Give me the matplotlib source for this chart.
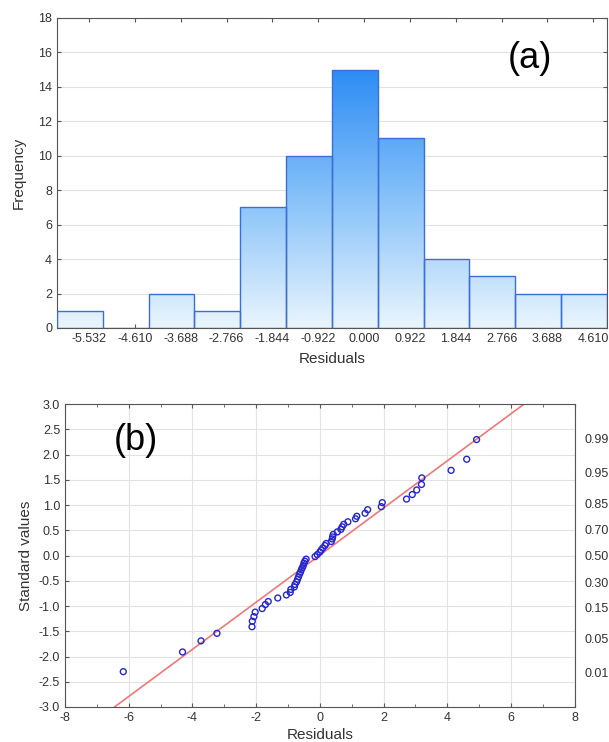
import numpy as np
import matplotlib
matplotlib.use("Agg")
import matplotlib.pyplot as plt
from matplotlib.colors import LinearSegmentedColormap
from matplotlib.path import Path
from matplotlib.patches import PathPatch

# ---- data ----
bin_labels = [-5.532, -4.610, -3.688, -2.766, -1.844, -0.922,
              0.000, 0.922, 1.844, 2.766, 3.688, 4.610]
bin_counts = [1, 0, 2, 1, 7, 10, 15, 11, 4, 3, 2, 2]
bin_width = 0.922

residuals = [-6.17, -4.31, -3.73, -3.23, -2.13, -2.12, -2.07, -2.03,
             -1.81, -1.71, -1.62, -1.32, -1.05, -0.93, -0.91, -0.80,
             -0.78, -0.73, -0.70, -0.67, -0.64, -0.61, -0.58, -0.55,
             -0.52, -0.50, -0.47, -0.43, -0.15, -0.08, 0.00, 0.04,
             0.09, 0.16, 0.20, 0.36, 0.39, 0.40, 0.42, 0.55,
             0.66, 0.70, 0.75, 0.88, 1.12, 1.16, 1.42, 1.50,
             1.93, 1.96, 2.72, 2.90, 3.04, 3.19, 3.20, 4.12,
             4.61, 4.92]
std_values = [-2.30, -1.91, -1.69, -1.54, -1.41, -1.30, -1.21, -1.12,
              -1.05, -0.97, -0.91, -0.84, -0.78, -0.73, -0.67, -0.62,
              -0.57, -0.52, -0.47, -0.42, -0.37, -0.33, -0.28, -0.24,
              -0.20, -0.15, -0.11, -0.07, -0.02, 0.02, 0.07, 0.11,
              0.15, 0.20, 0.24, 0.28, 0.33, 0.37, 0.42, 0.47,
              0.52, 0.57, 0.62, 0.67, 0.73, 0.78, 0.84, 0.91,
              0.97, 1.05, 1.12, 1.21, 1.30, 1.41, 1.54, 1.69,
              1.91, 2.30]
fit_slope = 0.467
fit_intercept = 0.01

prob_labels = ["0.01", "0.05", "0.15", "0.30", "0.50", "0.70", "0.85", "0.95", "0.99"]
prob_z = [-2.326, -1.645, -1.036, -0.524, 0.0, 0.524, 1.036, 1.645, 2.326]

# ---- style ----
C_TXT = "#333333"
C_SPINE = "#555555"
C_GRID = "#e2e2e2"
C_EDGE = "#3a6fd8"
plt.rcParams["font.family"] = ["Liberation Sans", "DejaVu Sans"]
plt.rcParams["axes.unicode_minus"] = False
TICK_FS = 9

fig = plt.figure(figsize=(6.09, 7.42), dpi=100)

# ── (a) histogram ──
ax1 = fig.add_axes([0.0936, 0.558, 0.903, 0.418])
lefts = [b - bin_width for b in bin_labels]
x_lo = lefts[0]
x_hi = bin_labels[-1]

cmap = LinearSegmentedColormap.from_list(
    "bars", [(0.0, "#eaf5fd"), (0.47, "#8dc5f9"), (1.0, "#2c8cf4")])
top = max(bin_counts)
grad = np.linspace(0, 1, 256).reshape(-1, 1)
img = ax1.imshow(grad, cmap=cmap, origin="lower", aspect="auto",
                 extent=[x_lo, x_hi, 0, top], zorder=2)
paths = []
for l, h in zip(lefts, bin_counts):
    if h > 0:
        paths.append(Path([(l, 0), (l + bin_width, 0), (l + bin_width, h),
                           (l, h), (l, 0)], closed=True))
clip = PathPatch(Path.make_compound_path(*paths), transform=ax1.transData,
                 fc="none", ec="none")
ax1.add_patch(clip)
img.set_clip_path(clip)
ax1.bar(lefts, bin_counts, width=bin_width, align="edge", fc="none",
        ec=C_EDGE, lw=1.0, zorder=3)
ax1.set_ylim(0, 18)
ax1.set_xlim(x_lo, x_hi)

ax1.set_xticks([b - 0.3 * bin_width for b in bin_labels])
ax1.set_xticklabels([f"{b:.3f}" for b in bin_labels])
ax1.set_yticks(range(0, 19, 2))
ax1.yaxis.grid(True, color=C_GRID, lw=0.8, zorder=0)
ax1.set_axisbelow(True)
ax1.tick_params(direction="in", length=3, top=True, right=True,
                colors=C_SPINE, labelcolor=C_TXT, labelsize=TICK_FS)
for s in ax1.spines.values():
    s.set_color(C_SPINE)
ax1.set_xlabel("Residuals", fontsize=11, color=C_TXT, labelpad=5)
ax1.set_ylabel("Frequency", fontsize=11, color=C_TXT, labelpad=9)
ax1.text(0.86, 0.87, "(a)", transform=ax1.transAxes, fontsize=26,
         ha="center", va="center", color="black")

# ── (b) normal probability plot ──
ax2 = fig.add_axes([0.1067, 0.0472, 0.837, 0.408])
ax2.set_xlim(-8, 8)
ax2.set_ylim(-3, 3)
ax2.grid(True, color=C_GRID, lw=0.8)
ax2.set_axisbelow(True)
xl = np.array([-8, 8])
ax2.plot(xl, fit_slope * xl + fit_intercept, color="#f07878", lw=1.2,
         zorder=2)
ax2.scatter(residuals, std_values, s=18, facecolors="none",
            edgecolors="#2626d0", linewidths=1.0, zorder=3)
ax2.set_xticks(range(-8, 9, 2))
ax2.set_xticks(range(-7, 8, 2), minor=True)
ax2.set_yticks(np.arange(-3, 3.01, 0.5))
ax2.set_yticklabels([f"{v:.1f}" for v in np.arange(-3, 3.01, 0.5)])
ax2.tick_params(which="both", direction="in", top=True, right=True,
                colors=C_SPINE, labelcolor=C_TXT, labelsize=TICK_FS)
ax2.tick_params(which="major", length=3)
ax2.tick_params(which="minor", length=2)
for s in ax2.spines.values():
    s.set_color(C_SPINE)
ax2.set_xlabel("Residuals", fontsize=11, color=C_TXT, labelpad=3)
ax2.set_ylabel("Standard values", fontsize=11, color=C_TXT, labelpad=4)
ax2.text(0.14, 0.88, "(b)", transform=ax2.transAxes, fontsize=26,
         ha="center", va="center", color="black")

ax3 = ax2.twinx()
ax3.set_ylim(-3, 3)
ax3.set_yticks(prob_z)
ax3.set_yticklabels(prob_labels)
ax3.tick_params(axis="y", length=0, pad=7, labelcolor=C_TXT, labelsize=TICK_FS)
for s in ax3.spines.values():
    s.set_visible(False)

fig.savefig("out.png", dpi=100)
